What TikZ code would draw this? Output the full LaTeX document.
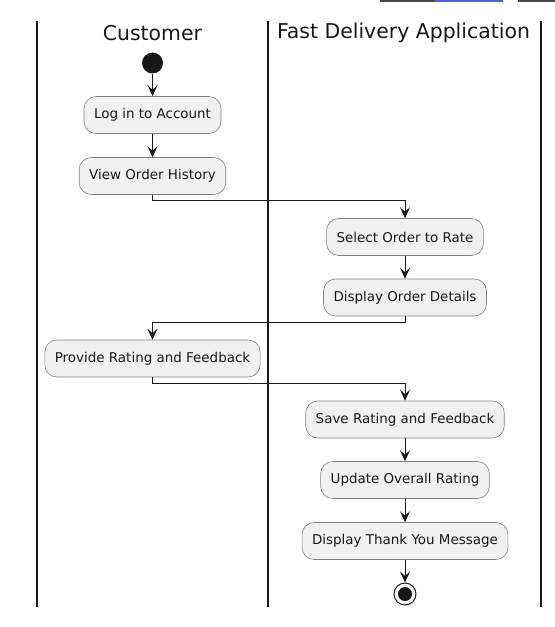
\documentclass[tikz,border=0pt]{standalone}
\usepackage{fontspec}
\setmainfont{DejaVu Sans}
\usetikzlibrary{arrows.meta}
\definecolor{actfill}{HTML}{F1F1F1}
\definecolor{actline}{HTML}{181818}
\definecolor{barblue}{HTML}{5060D8}
\tikzstyle{lane-title}=[font=\fontsize{20.5}{24}\selectfont,text=actline]
\tikzstyle{action-node}=[fill=actfill,draw=black!50,line width=0.6bp,rounded corners=12bp,minimum height=37bp,inner xsep=10bp,font=\fontsize{13.5}{16}\selectfont,text=actline]
\tikzstyle{start-node}=[fill=actline,circle,inner sep=0pt,minimum size=21bp]
\tikzstyle{stop-node}=[fill=white,draw=actline,line width=1bp,circle,inner sep=0pt,minimum size=22bp]
\tikzstyle{lane-line}=[draw=actline,line width=1.4bp]
\tikzstyle{flow-line}=[draw=actline,line width=1bp]

\begin{document}
\begin{tikzpicture}[x=1bp,y=-1bp]
        \useasboundingbox (0,0) rectangle (555,627);

        % swimlanes
        \begin{scope}
            \path [lane-line] (37,21) -- (37,607);
            \path [lane-line] (268,21) -- (268,607);
            \path [lane-line] (541,21) -- (541,607);
            \node (customer)[lane-title] at (152.5,33) {Customer};
            \node (app)[lane-title] at (403.5,33) {Fast Delivery Application};
        \end{scope}

        % bars at the top edge
        \fill [actline!80] (380,0) rectangle (435,2);
        \fill [barblue] (435,0) rectangle (503,2);
        \fill [actline!80] (518,0) rectangle (555,2);

        \begin{scope}
            \node (start)[start-node] at (152.5,63) {};
            \node (login)[action-node] at (152.5,115) {Log in to Account};
            \node (history)[action-node] at (152.5,176) {View Order History};
            \node (select)[action-node] at (405,237) {Select Order to Rate};
            \node (details)[action-node] at (405,297.5) {Display Order Details};
            \node (provide)[action-node] at (152.5,358.5) {Provide Rating and Feedback};
            \node (save)[action-node] at (405,419.5) {Save Rating and Feedback};
            \node (update)[action-node] at (405,480) {Update Overall Rating};
            \node (thanks)[action-node] at (405,541) {Display Thank You Message};
            \node (stop)[stop-node] at (405,594) {};
            \fill [actline] (stop) circle (7bp);
        \end{scope}

        \begin{scope}[>={Stealth[length=11bp,width=10bp,inset=4.5bp]}, every edge/.style=flow-line]
            \path [->] (start) edge node {} (login);
            \path [->] (login) edge node {} (history);
            \draw [->,flow-line] (history.south) -- ++(0,6) -| (select.north);
            \path [->] (select) edge node {} (details);
            \draw [->,flow-line] (details.south) -- ++(0,6) -| (provide.north);
            \draw [->,flow-line] (provide.south) -- ++(0,6) -| (save.north);
            \path [->] (save) edge node {} (update);
            \path [->] (update) edge node {} (thanks);
            \path [->] (thanks) edge node {} (stop);
        \end{scope}

    \end{tikzpicture}
\end{document}
